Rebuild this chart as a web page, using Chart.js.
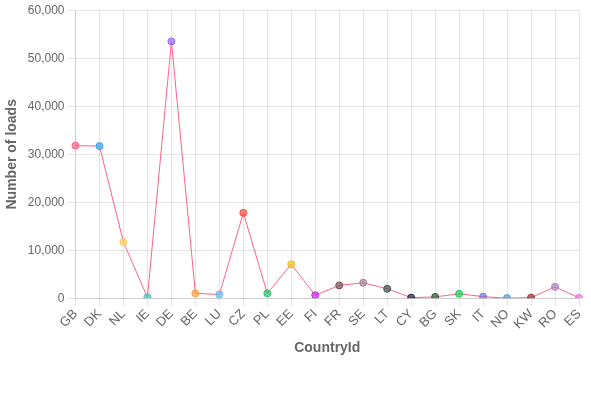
<!DOCTYPE html>
<html lang="en">
<head>
    <meta charset="UTF-8">
    <title>Loads per country</title>
    <script src="https://cdn.jsdelivr.net/npm/chart.js"></script>
    <style>
        body { margin: 0; background: #fff; }
        .chart-container { width: 591px; height: 400px; }
    </style>
</head>
<body>
    <div class="chart-container">
        <canvas id="loadsChart"></canvas>
    </div>

    <script>
        // Countries and number of loads
        const countries = ['GB', 'DK', 'NL', 'IE', 'DE', 'BE', 'LU', 'CZ', 'PL', 'EE', 'FI',
            'FR', 'SE', 'LT', 'CY', 'BG', 'SK', 'IT', 'NO', 'KW', 'RO', 'ES'];
        const loads = [31800, 31700, 11700, 200, 53500, 1050, 800, 17800, 1050, 7100, 650,
            2700, 3250, 2000, 150, 300, 950, 350, 50, 150, 2400, 100];

        // One colour per point
        const pointColors = [
            [255, 99, 132], [54, 162, 235], [255, 206, 86], [75, 192, 192], [153, 102, 255],
            [255, 159, 64], [100, 190, 240], [245, 80, 60], [46, 190, 110], [240, 190, 30],
            [190, 40, 230], [120, 80, 90], [160, 130, 150], [60, 80, 90], [25, 35, 75],
            [40, 90, 60], [30, 200, 90], [120, 120, 210], [80, 160, 210], [150, 50, 50],
            [170, 130, 200], [230, 120, 230]
        ];

        const ctx = document.getElementById('loadsChart').getContext('2d');
        const loadsChart = new Chart(ctx, {
            type: 'line',
            data: {
                labels: countries,
                datasets: [{
                    label: 'Loads',
                    data: loads,
                    borderColor: 'rgba(255, 99, 132, 1)',
                    borderWidth: 1,
                    fill: false,
                    tension: 0,
                    pointRadius: 3.5,
                    pointBorderWidth: 1,
                    pointBackgroundColor: pointColors.map(c => `rgba(${c[0]}, ${c[1]}, ${c[2]}, 0.7)`),
                    pointBorderColor: pointColors.map(c => `rgba(${c[0]}, ${c[1]}, ${c[2]}, 1)`)
                }]
            },
            options: {
                responsive: true,
                maintainAspectRatio: false,
                animation: false,
                layout: { padding: { bottom: 39, right: 12 } },
                plugins: { legend: { display: false } },
                scales: {
                    x: {
                        title: { display: true, text: 'CountryId', padding: { top: 8, bottom: 4 }, font: { size: 14, weight: 'bold' } },
                        ticks: { autoSkip: false, minRotation: 45, maxRotation: 45, padding: 0, font: { size: 13 } }
                    },
                    y: {
                        beginAtZero: true,
                        min: 0,
                        max: 60000,
                        ticks: { stepSize: 10000, font: { size: 12 } },
                        title: { display: true, text: 'Number of loads', font: { size: 14, weight: 'bold' } }
                    }
                }
            }
        });
    </script>
</body>
</html>
